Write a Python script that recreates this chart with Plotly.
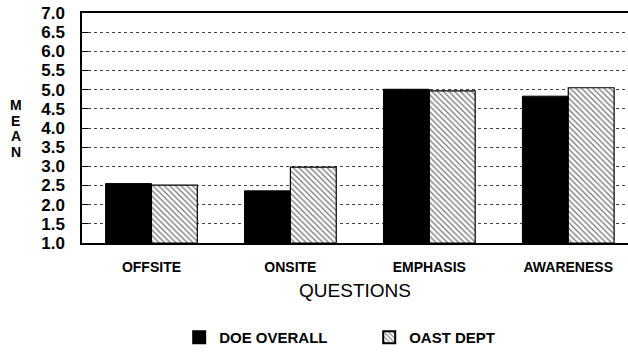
import plotly.graph_objects as go

questions = ["OFFSITE", "ONSITE", "EMPHASIS", "AWARENESS"]
doe_overall = [2.55, 2.36, 5.01, 4.83]
oast_dept = [2.51, 2.98, 4.97, 5.05]
y_ticks = [1.0, 1.5, 2.0, 2.5, 3.0, 3.5, 4.0, 4.5, 5.0, 5.5, 6.0, 6.5, 7.0]
AXIS_FLOOR = 1.0
Y_TITLE = "MEAN"

FONT = "Liberation Sans, Arial, sans-serif"

fig = go.Figure()
# bars rise from the 1.0 axis floor
fig.add_trace(go.Bar(
    name="DOE OVERALL", x=questions,
    y=[v - AXIS_FLOOR for v in doe_overall], base=AXIS_FLOOR,
    marker=dict(color="black", line=dict(color="black", width=1)),
))
fig.add_trace(go.Bar(
    name="OAST DEPT", x=questions,
    y=[v - AXIS_FLOOR for v in oast_dept], base=AXIS_FLOOR,
    marker=dict(
        color="white", line=dict(color="black", width=1.2),
        pattern=dict(shape="\\", fgcolor="black", bgcolor="white",
                     size=4, solidity=0.35, fillmode="overlay"),
    ),
))

fig.update_layout(
    width=628, height=354,
    margin=dict(l=82, r=0, t=13, b=103),
    paper_bgcolor="white", plot_bgcolor="white",
    barmode="group", bargap=0.34, bargroupgap=0,
    font=dict(family=FONT, color="black"),
    showlegend=True,
    legend=dict(
        orientation="h", x=0.178, xanchor="left", y=-0.34, yanchor="top",
        font=dict(family=FONT, size=15, color="black", weight="bold"),
        itemsizing="constant", traceorder="normal", itemwidth=30,
        entrywidth=145,
    ),
)
fig.update_xaxes(
    range=[-0.5, 3.43], showline=True, linecolor="black", linewidth=1.5,
    mirror=True, ticks="", showgrid=False,
    tickfont=dict(family=FONT, size=14, weight="bold"),
    ticklabelstandoff=10,
    title=dict(text="QUESTIONS", font=dict(family=FONT, size=19), standoff=10),
)
fig.update_yaxes(
    range=[1.0, 7.0], tickvals=y_ticks, tickformat=".1f",
    showline=True, linecolor="black", linewidth=1.5,
    ticks="inside", ticklen=6, tickcolor="black", tickwidth=1,
    showgrid=True, gridcolor="#444", gridwidth=1, griddash="dot",
    tickfont=dict(family=FONT, size=17, weight="bold"),
    ticklabelstandoff=12, zeroline=False,
)
# stacked vertical axis title, one letter per row
for i, letter in enumerate(Y_TITLE):
    fig.add_annotation(
        text=letter, xref="paper", yref="paper",
        x=-0.121, y=0.6 - i * 0.068, xanchor="center", yanchor="middle",
        showarrow=False, height=14, valign="middle", borderpad=0,
        font=dict(family=FONT, size=14, weight="bold"),
    )

fig.write_html("out.html")
